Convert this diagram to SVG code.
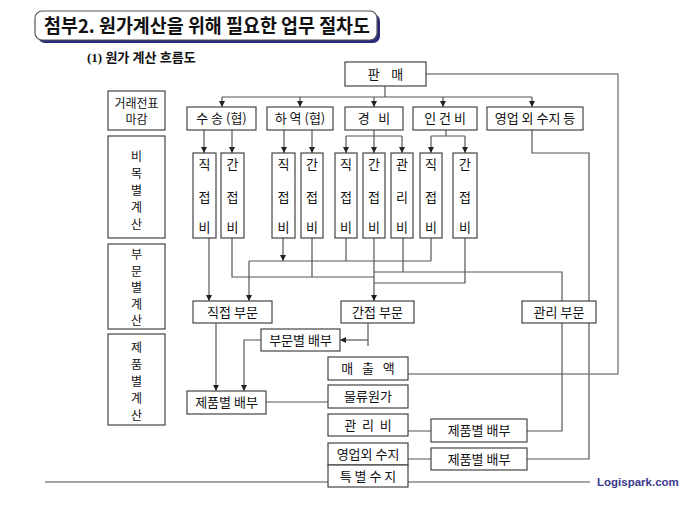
<svg xmlns="http://www.w3.org/2000/svg" width="680" height="510" viewBox="0 0 680 510">
<style>
text{font-family:"Noto Sans CJK KR","Liberation Sans",sans-serif;font-size:13px;fill:#111;text-anchor:middle;white-space:pre}
.bx{fill:#fff;stroke:#444;stroke-width:1.2}
.ln{fill:none;stroke:#555;stroke-width:1.2}
.lg{fill:none;stroke:#888;stroke-width:1.5}
.ar{marker-end:url(#ah)}
.vl{font-size:12px}
.ttl{font-size:19px;font-weight:bold;text-anchor:start}
.sub{font-family:"Liberation Serif","Noto Sans CJK KR",serif;font-size:13px;font-weight:bold;text-anchor:start}
.logo{font-family:"Liberation Sans",Arial,sans-serif;font-size:11.5px;font-weight:bold;fill:#3a3a8c;text-anchor:start}
</style>
<defs>
<marker id="ah" markerUnits="userSpaceOnUse" markerWidth="7" markerHeight="7" refX="6" refY="3" orient="auto">
<path d="M0,0 L6,3 L0,6 z" fill="#222"/>
</marker>
</defs>
<rect width="680" height="510" fill="#fff"/>

<g id="title">
<rect x="38" y="14" width="342" height="29" rx="7" fill="#2b2b7a"/>
<rect x="35" y="11" width="342" height="29" rx="7" fill="#fff" stroke="#555" stroke-width="1.2"/>
<text class="ttl" x="44" y="33" textLength="326" lengthAdjust="spacingAndGlyphs">첨부2. 원가계산을 위해 필요한 업무 절차도</text>
</g>
<g id="subtitle"><text class="sub" x="87" y="62">(1) 원가 계산 흐름도</text></g>

<g id="connectors">
<path class="ln" d="M385,86 V97 M222,97 H532"/>
<path class="ln ar" d="M222,97 V107"/>
<path class="ln ar" d="M300,97 V107"/>
<path class="ln ar" d="M374,97 V107"/>
<path class="ln ar" d="M443,97 V107"/>
<path class="ln ar" d="M532,97 V107"/>
<path class="ln ar" d="M204,130 V153"/>
<path class="ln ar" d="M232,130 V153"/>
<path class="ln ar" d="M284,130 V153"/>
<path class="ln ar" d="M312,130 V153"/>
<path class="ln" d="M374,130 V136 M346,136 H402 M446,130 V136 M431,136 H465"/>
<path class="ln ar" d="M346,136 V153"/>
<path class="ln ar" d="M374,136 V153"/>
<path class="ln ar" d="M402,136 V153"/>
<path class="ln ar" d="M431,136 V153"/>
<path class="ln ar" d="M465,136 V153"/>
<path class="ln" d="M532,130 V153 H589 V459 H527"/>
<path class="lg" d="M426,74 H618 V374 H408"/>
<path class="ln ar" d="M209,238 V301"/>
<path class="ln" d="M232,238 V277 H374 M312,238 V277"/>
<path class="ln ar" d="M283,238 V261"/>
<path class="ln" d="M249,261 H431 M346,238 V261 M431,238 V261"/>
<path class="ln ar" d="M249,261 V301"/>
<path class="ln ar" d="M374,238 V301"/>
<path class="ln" d="M403,238 V272 M374,272 H562 V301 M465,238 V283 H374"/>
<path class="ln" d="M368,323 V346"/>
<path class="ln ar" d="M368,340 H340"/>
<path class="ln ar" d="M261,340 H244 V391"/>
<path class="ln ar" d="M216,323 V391"/>
<path class="ln" d="M266,402 H328"/>
<path class="ln" d="M562,323 V431 H527"/>
<path class="ln" d="M408,431 H431 M408,459 H431"/>
<path class="lg" d="M45,482 H328 M408,482 H590"/>
</g>

<g id="n-sales"><rect class="bx" x="345" y="62" width="81" height="24"/><text x="385.5" y="79">판    매</text></g>

<g id="n-stage1"><rect class="bx" x="108" y="91" width="57" height="39"/><text class="vl" x="136.5" y="108">거래전표</text><text class="vl" x="136.5" y="124">마감</text></g>
<g id="n-stage2"><rect class="bx" x="108" y="136" width="57" height="102"/>
<text class="vl" x="136.5" y="161">비</text><text class="vl" x="136.5" y="178">목</text><text class="vl" x="136.5" y="195">별</text><text class="vl" x="136.5" y="212">계</text><text class="vl" x="136.5" y="229">산</text></g>
<g id="n-stage3"><rect class="bx" x="108" y="244" width="57" height="85"/>
<text class="vl" x="136.5" y="259">부</text><text class="vl" x="136.5" y="275.5">문</text><text class="vl" x="136.5" y="292">별</text><text class="vl" x="136.5" y="308.5">계</text><text class="vl" x="136.5" y="325">산</text></g>
<g id="n-stage4"><rect class="bx" x="108" y="334" width="57" height="91"/>
<text class="vl" x="136.5" y="352">제</text><text class="vl" x="136.5" y="369">품</text><text class="vl" x="136.5" y="386">별</text><text class="vl" x="136.5" y="403">계</text><text class="vl" x="136.5" y="420">산</text></g>

<g id="n-transport"><rect class="bx" x="187" y="107" width="69" height="23"/><text x="221.5" y="123">수 송 (협)</text></g>
<g id="n-handling"><rect class="bx" x="267" y="107" width="66" height="23"/><text x="300" y="123">하 역 (협)</text></g>
<g id="n-expense"><rect class="bx" x="345" y="107" width="58" height="23"/><text x="374" y="123">경   비</text></g>
<g id="n-labor"><rect class="bx" x="413" y="107" width="64" height="23"/><text x="445" y="123">인 건 비</text></g>
<g id="n-nonop"><rect class="bx" x="487" y="107" width="96" height="23"/><text x="535" y="123">영업 외 수지 등</text></g>

<g id="n-t-direct"><rect class="bx" x="193" y="153" width="23" height="85"/><text x="204.5" y="169">직</text><text x="204.5" y="202">접</text><text x="204.5" y="232">비</text></g>
<g id="n-t-indirect"><rect class="bx" x="221" y="153" width="23" height="85"/><text x="232.5" y="169">간</text><text x="232.5" y="202">접</text><text x="232.5" y="232">비</text></g>
<g id="n-h-direct"><rect class="bx" x="272" y="153" width="23" height="85"/><text x="283.5" y="169">직</text><text x="283.5" y="202">접</text><text x="283.5" y="232">비</text></g>
<g id="n-h-indirect"><rect class="bx" x="301" y="153" width="22" height="85"/><text x="312" y="169">간</text><text x="312" y="202">접</text><text x="312" y="232">비</text></g>
<g id="n-e-direct"><rect class="bx" x="335" y="153" width="22" height="85"/><text x="346" y="169">직</text><text x="346" y="202">접</text><text x="346" y="232">비</text></g>
<g id="n-e-indirect"><rect class="bx" x="363" y="153" width="22" height="85"/><text x="374" y="169">간</text><text x="374" y="202">접</text><text x="374" y="232">비</text></g>
<g id="n-e-admin"><rect class="bx" x="391" y="153" width="22" height="85"/><text x="402" y="169">관</text><text x="402" y="202">리</text><text x="402" y="232">비</text></g>
<g id="n-l-direct"><rect class="bx" x="420" y="153" width="22" height="85"/><text x="431" y="169">직</text><text x="431" y="202">접</text><text x="431" y="232">비</text></g>
<g id="n-l-indirect"><rect class="bx" x="453" y="153" width="24" height="85"/><text x="465" y="169">간</text><text x="465" y="202">접</text><text x="465" y="232">비</text></g>

<g id="n-direct-dept"><rect class="bx" x="193" y="301" width="79" height="22"/><text x="232.5" y="317">직접 부문</text></g>
<g id="n-indirect-dept"><rect class="bx" x="341" y="301" width="73" height="22"/><text x="377.5" y="317">간접 부문</text></g>
<g id="n-admin-dept"><rect class="bx" x="522" y="301" width="74" height="22"/><text x="559" y="317">관리 부문</text></g>
<g id="n-dept-alloc"><rect class="bx" x="261" y="329" width="79" height="22"/><text x="300.5" y="345">부문별 배부</text></g>
<g id="n-prod-alloc"><rect class="bx" x="187" y="391" width="79" height="23"/><text x="226.5" y="407">제품별 배부</text></g>
<g id="n-revenue"><rect class="bx" x="328" y="357" width="80" height="23"/><text x="368" y="373">매   출   액</text></g>
<g id="n-logcost"><rect class="bx" x="328" y="385" width="80" height="23"/><text x="368" y="401">물류원가</text></g>
<g id="n-admincost"><rect class="bx" x="328" y="414" width="80" height="22"/><text x="368" y="430">관  리  비</text></g>
<g id="n-nonop2"><rect class="bx" x="328" y="443" width="80" height="22"/><text x="368" y="459">영업외 수지</text></g>
<g id="n-special"><rect class="bx" x="328" y="465" width="80" height="22"/><text x="368" y="481">특 별 수 지</text></g>
<g id="n-prod-alloc2"><rect class="bx" x="431" y="419" width="96" height="23"/><text x="479" y="435">제품별 배부</text></g>
<g id="n-prod-alloc3"><rect class="bx" x="431" y="448" width="96" height="22"/><text x="479" y="464">제품별 배부</text></g>

<g id="logo"><text class="logo" x="597" y="486">Logispark.com</text></g>
</svg>
